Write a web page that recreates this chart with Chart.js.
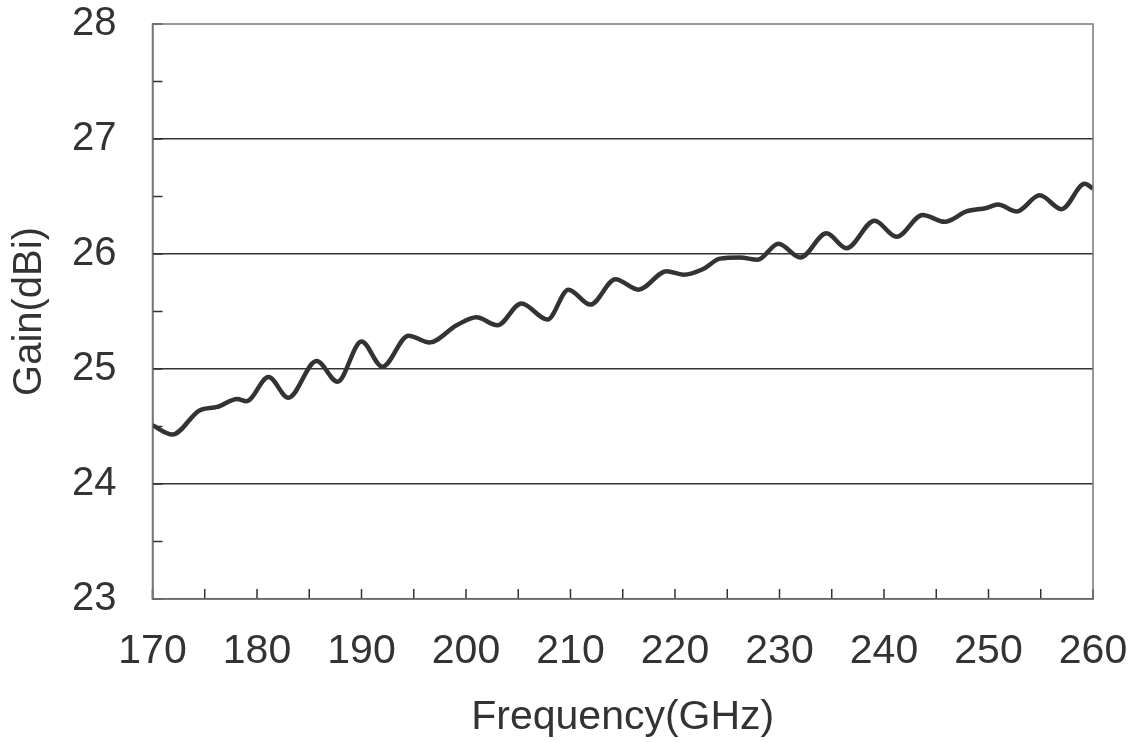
<!DOCTYPE html>
<html>
<head>
<meta charset="utf-8">
<script src="https://cdn.jsdelivr.net/npm/chart.js@4/dist/chart.umd.min.js"></script>
<style>
  html, body { margin: 0; padding: 0; background: #fff; }
  #wrap { width: 1129px; height: 742px; }
</style>
</head>
<body>
<div id="wrap"><canvas id="gainChart"></canvas></div>
<script>
// Gain vs frequency
const freqGHz = [170.0, 171.9, 174.5, 176.2, 178.1, 179.0, 181.1, 183.0, 185.7, 187.7,
  190.0, 192.0, 194.5, 196.5, 199.1, 201.0, 203.0, 205.3, 207.8, 209.8,
  211.9, 214.3, 216.5, 219.2, 220.8, 222.7, 224.3, 226.2, 227.9, 229.9,
  232.0, 234.5, 236.4, 239.1, 241.2, 243.7, 245.8, 247.9, 249.8, 250.9,
  252.7, 254.9, 257.0, 259.2, 260.0];
const gainDBi = [24.51, 24.43, 24.64, 24.67, 24.74, 24.72, 24.93, 24.75, 25.07, 24.89,
  25.24, 25.02, 25.29, 25.23, 25.38, 25.45, 25.38, 25.57, 25.43, 25.69,
  25.56, 25.78, 25.69, 25.85, 25.82, 25.87, 25.96, 25.97, 25.95, 26.09,
  25.97, 26.18, 26.05, 26.29, 26.15, 26.34, 26.28, 26.37, 26.40, 26.43,
  26.37, 26.51, 26.39, 26.61, 26.57];

const xMin = 170, xMax = 260, xStep = 5;
const yMin = 23, yMax = 28, yStep = 0.5;
const gridLines = [24, 25, 26, 27];

const ink = '#333333';
const fontFam = '"Liberation Sans", Arial, sans-serif';

// inward tick marks + frame box
const frameTicks = {
  id: 'frameTicks',
  afterDraw(chart) {
    const ctx = chart.ctx;
    const a = chart.chartArea;
    const xs = chart.scales.x, ys = chart.scales.y;
    ctx.save();
    ctx.strokeStyle = ink;
    ctx.lineWidth = 1.5;
    ctx.beginPath();
    xs.ticks.forEach(t => {
      const px = xs.getPixelForValue(t.value);
      ctx.moveTo(px, a.bottom);
      ctx.lineTo(px, a.bottom - 10);
    });
    ys.ticks.forEach(t => {
      const py = ys.getPixelForValue(t.value);
      ctx.moveTo(a.left, py);
      ctx.lineTo(a.left + 10, py);
    });
    ctx.stroke();
    ctx.strokeStyle = '#777';
    ctx.lineWidth = 1.5;
    ctx.strokeRect(a.left, a.top, a.right - a.left, a.bottom - a.top);
    ctx.restore();
  }
};

new Chart(document.getElementById('gainChart'), {
  type: 'line',
  data: {
    datasets: [{
      data: freqGHz.map((f, i) => ({ x: f, y: gainDBi[i] })),
      borderColor: ink,
      borderWidth: 4.5,
      pointRadius: 0,
      cubicInterpolationMode: 'monotone',
      fill: false
    }]
  },
  options: {
    responsive: true,
    maintainAspectRatio: false,
    animation: false,
    layout: { padding: { left: 0, right: 36, top: 24, bottom: 0 } },
    plugins: { legend: { display: false }, tooltip: { enabled: false } },
    scales: {
      x: {
        type: 'linear',
        min: xMin, max: xMax,
        afterFit: s => { s.height = 143; s.paddingLeft = 0; s.paddingRight = 0; },
        ticks: {
          stepSize: xStep,
          autoSkip: false,
          maxRotation: 0,
          padding: 28,
          color: ink,
          font: { family: fontFam, size: 41 },
          callback: v => (v % 10 === 0 ? v : '')
        },
        grid: { display: false, drawTicks: false },
        border: { display: true, color: ink, width: 1.5 },
        title: {
          display: true,
          text: 'Frequency(GHz)',
          color: ink,
          font: { family: fontFam, size: 41 },
          padding: { top: 0, bottom: 0 }
        }
      },
      y: {
        min: yMin, max: yMax,
        afterFit: s => { s.width = 152.5; s.paddingTop = 0; s.paddingBottom = 0; },
        ticks: {
          stepSize: yStep,
          autoSkip: false,
          padding: 36,
          color: ink,
          font: { family: fontFam, size: 40 },
          callback: v => (Number.isInteger(v) ? v : '')
        },
        grid: {
          drawTicks: false,
          lineWidth: 1.5,
          color: c => (gridLines.includes(c.tick && c.tick.value) ? ink : 'rgba(0,0,0,0)')
        },
        border: { display: true, color: ink, width: 1.5 },
        title: {
          display: true,
          text: 'Gain(dBi)',
          color: ink,
          font: { family: fontFam, size: 40 },
          padding: { top: 6, bottom: 0 }
        }
      }
    }
  },
  plugins: [frameTicks]
});
</script>
</body>
</html>
